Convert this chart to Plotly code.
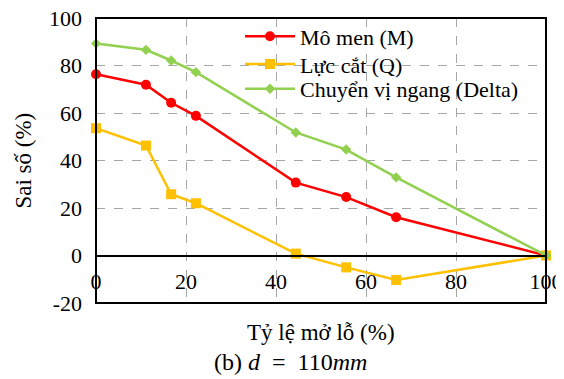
import plotly.graph_objects as go

x_open = [0, 11.1, 16.7, 22.2, 44.4, 55.6, 66.7, 100]
moment = [76.3, 71.9, 64.3, 58.8, 30.7, 24.6, 16.1, 0]
shear = [53.6, 46.3, 25.8, 22.0, 0.8, -5.0, -10.3, 0]
disp = [89.3, 86.6, 82.1, 77.2, 51.8, 44.6, 32.9, 0]

names = ["Mô men (M)", "Lực cắt (Q)", "Chuyển vị ngang (Delta)"]
colors = ["#FF0000", "#FFC000", "#92D050"]
symbols = ["circle", "square", "diamond"]
sizes = [10, 10, 8]

x_ticks = [0, 20, 40, 60, 80, 100]
y_ticks = [-20, 0, 20, 40, 60, 80, 100]

FONT = "Liberation Serif, Times New Roman, Tinos, serif"
FS = 22

legend_ids = ["legend", "legend2", "legend3"]
legend_y = [0.935, 0.838, 0.751]

fig = go.Figure()
for series, name, c, s, sz, lg in zip([moment, shear, disp], names, colors, symbols, sizes, legend_ids):
    fig.add_trace(go.Scatter(
        x=x_open, y=series, name=name, mode="lines+markers",
        line=dict(color=c, width=2.5),
        marker=dict(symbol=s, size=sz, color=c),
        cliponaxis=False, legend=lg,
    ))

legend_style = dict(
    x=0.32, xanchor="left", yanchor="middle",
    bgcolor="rgba(0,0,0,0)", borderwidth=0,
    font=dict(family=FONT, size=FS), itemwidth=50,
)

# page body has an 8px margin, so the figure is offset by 8px in the window
fig.update_layout(
    width=556, height=371,
    margin=dict(l=88, r=18, t=10, b=76, autoexpand=False),
    paper_bgcolor="white", plot_bgcolor="white",
    font=dict(family=FONT, size=FS, color="black"),
    showlegend=True,
    legend=dict(y=legend_y[0], **legend_style),
    legend2=dict(y=legend_y[1], **legend_style),
    legend3=dict(y=legend_y[2], **legend_style),
    xaxis=dict(
        range=[0, 100], tickvals=x_ticks, ticktext=[str(v) for v in x_ticks],
        showgrid=True, gridcolor="#A6A6A6", griddash="dash", gridwidth=1,
        zeroline=False, showline=True, linecolor="black", linewidth=1.5,
        anchor="free", position=1/6, ticks="", automargin=False,
        ticklabeloverflow="allow", ticklabelstandoff=6,
        tickfont=dict(family=FONT, size=FS),
    ),
    yaxis=dict(
        range=[-20, 100], tickvals=y_ticks, ticktext=[str(v) for v in y_ticks],
        showgrid=True, gridcolor="#A6A6A6", griddash="dash", gridwidth=1,
        zeroline=False, showline=False, ticks="", automargin=False,
        ticklabeloverflow="allow", ticklabelstandoff=13,
        tickfont=dict(family=FONT, size=FS),
    ),
    shapes=[dict(type="rect", xref="paper", yref="paper", x0=0, x1=1, y0=0, y1=1,
                 line=dict(color="black", width=2), layer="above")],
    annotations=[
        dict(text="Sai số (%)", xref="paper", yref="paper", x=-0.162, y=0.5,
             xanchor="center", yanchor="middle", showarrow=False, textangle=-90,
             font=dict(family=FONT, size=23)),
        dict(text="Tỷ lệ mở lỗ (%)", xref="paper", yref="paper", x=0.5, y=-0.104,
             xanchor="center", yanchor="middle", showarrow=False,
             font=dict(family=FONT, size=23)),
        dict(text="(b)&nbsp;<i>d</i>&nbsp; = &nbsp;110<i>mm</i>", xref="paper", yref="paper",
             x=0.433, y=-0.207, xanchor="center", yanchor="middle", showarrow=False,
             font=dict(family=FONT, size=24)),
    ],
)

fig.write_html("out.html")
